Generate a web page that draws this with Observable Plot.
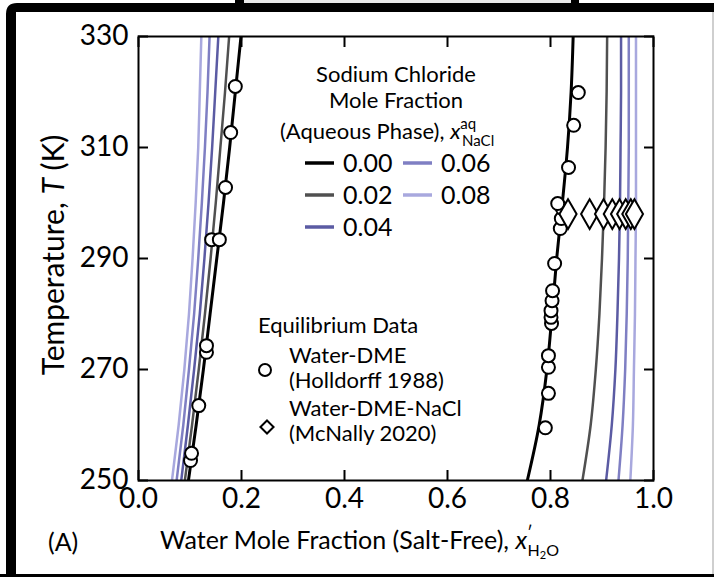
<!DOCTYPE html>
<html>
<head>
<meta charset="utf-8">
<script src="https://cdn.jsdelivr.net/npm/d3@7"></script>
<script src="https://cdn.jsdelivr.net/npm/@observablehq/plot@0.6"></script>
<style>
  body { margin: 0; background: #fff; }
  #wrap { position: relative; width: 714px; height: 577px; overflow: hidden; background: #fff; }
  #wrap svg { position: absolute; left: 0; top: 0; }
</style>
</head>
<body>
<div id="wrap"></div>
<script>
// Temperature grid (K) for the model phase-boundary curves
const temps = [250, 260, 270, 280, 290, 300, 310, 320, 330];

// NaCl mole fraction in the aqueous phase, with the line colour for each
const saltFractions = ["0.00", "0.02", "0.04", "0.06", "0.08"];
const saltColors = ["#000000", "#505050", "#5b5ba3", "#7f7fc3", "#a8a8de"];
const saltWidths = [3, 2.5, 2.5, 2.5, 2.5];

// Organic-rich (DME-rich) branch: salt-free water mole fraction vs T
const organic000 = [0.097, 0.112, 0.126, 0.139, 0.152, 0.165, 0.177, 0.188, 0.199];
const organic002 = [0.090, 0.104, 0.117, 0.129, 0.140, 0.150, 0.159, 0.168, 0.176];
const organic004 = [0.083, 0.096, 0.108, 0.119, 0.128, 0.136, 0.143, 0.149, 0.155];
const organic006 = [0.074, 0.087, 0.098, 0.108, 0.116, 0.123, 0.129, 0.134, 0.138];
const organic008 = [0.065, 0.078, 0.089, 0.098, 0.105, 0.111, 0.116, 0.119, 0.122];

// Water-rich branch
const aqueous000 = [0.755, 0.778, 0.793, 0.803, 0.812, 0.823, 0.833, 0.840, 0.844];
const aqueous002 = [0.862, 0.878, 0.888, 0.895, 0.900, 0.904, 0.907, 0.909, 0.910];
const aqueous004 = [0.908, 0.919, 0.926, 0.930, 0.933, 0.935, 0.936, 0.937, 0.937];
const aqueous006 = [0.932, 0.940, 0.945, 0.948, 0.950, 0.951, 0.952, 0.952, 0.952];
const aqueous008 = [0.955, 0.960, 0.962, 0.964, 0.965, 0.966, 0.966, 0.966, 0.966];

// Water-DME equilibrium data (Holldorff 1988)
const holldorffX = [0.101, 0.103, 0.117, 0.132, 0.132, 0.142, 0.157, 0.169, 0.179, 0.188,
                    0.790, 0.796, 0.796, 0.796, 0.802, 0.801, 0.801, 0.803, 0.804, 0.808,
                    0.819, 0.821, 0.823, 0.814, 0.835, 0.845, 0.854];
const holldorffT = [253.6, 254.9, 263.5, 273.1, 274.3, 293.4, 293.4, 302.8, 312.7, 321.0,
                    259.5, 265.7, 270.4, 272.5, 278.3, 279.4, 280.6, 282.4, 284.2, 289.1,
                    295.4, 297.2, 299.0, 299.9, 306.4, 314.0, 319.9];

// Water-DME-NaCl equilibrium data (McNally 2020), all at 298 K
const mcnallyX = [0.834, 0.876, 0.903, 0.920, 0.934, 0.946, 0.956, 0.963];
const mcnallyT = [298, 298, 298, 298, 298, 298, 298, 298];

const xTicks = [0, 0.2, 0.4, 0.6, 0.8, 1.0];
const yTicks = [250, 270, 290, 310, 330];

// Assemble the curve table
const organic = [organic000, organic002, organic004, organic006, organic008];
const aqueous = [aqueous000, aqueous002, aqueous004, aqueous006, aqueous008];
const curves = [];
// lightest first so the salt-free curve ends up on top
for (let s = saltFractions.length - 1; s >= 0; s--) {
  [["organic", organic[s]], ["aqueous", aqueous[s]]].forEach(([branch, xs]) => {
    xs.forEach((x, i) => curves.push({salt: saltFractions[s], branch, key: saltFractions[s] + branch, x, T: temps[i]}));
  });
}
const holldorff = holldorffX.map((x, i) => ({x, T: holldorffT[i]}));
const mcnally = mcnallyX.map((x, i) => ({x, T: mcnallyT[i]}));

const font = "Lato, 'Liberation Sans', sans-serif";
const blank = () => "";

const plot = Plot.plot({
  width: 714,
  height: 577,
  marginLeft: 138,
  marginRight: 61,
  marginTop: 36,
  marginBottom: 97,
  style: {fontFamily: font, fontSize: "28px", color: "#000", background: "transparent"},
  x: {domain: [0, 1]},
  y: {domain: [250, 330]},
  color: {domain: saltFractions, range: saltColors},
  marks: [
    Plot.line(curves, {
      x: "x", y: "T", z: "key", stroke: "salt",
      strokeWidth: d => saltWidths[saltFractions.indexOf(d.salt)],
      curve: "monotone-y", clip: true
    }),
    Plot.dot(holldorff, {x: "x", y: "T", r: 6.5, fill: "white", stroke: "black", strokeWidth: 2}),
    Plot.dot(mcnally, {x: "x", y: "T", symbol: "diamond", r: 9, fill: "white", stroke: "black", strokeWidth: 2}),
    Plot.frame({stroke: "black", strokeWidth: 2}),
    Plot.axisY(yTicks, {anchor: "left", tickSize: 0, tickPadding: 10, label: null}),
    Plot.axisY(yTicks, {anchor: "left", tickSize: -10, strokeWidth: 2, tickFormat: blank, label: null}),
    Plot.axisY(yTicks, {anchor: "right", tickSize: -10, strokeWidth: 2, tickFormat: blank, label: null}),
    Plot.axisX(xTicks, {anchor: "bottom", tickSize: 0, tickPadding: 8, tickFormat: d3.format(".1f"), label: null}),
    Plot.axisX(xTicks, {anchor: "bottom", tickSize: -10, strokeWidth: 2, tickFormat: blank, label: null}),
    Plot.axisX(xTicks, {anchor: "top", tickSize: -10, strokeWidth: 2, tickFormat: blank, label: null})
  ]
});

document.getElementById("wrap").appendChild(plot);

const svg = d3.select(plot);
const txt = (x, y, size, anchor = "start") => svg.append("text")
  .attr("x", x).attr("y", y)
  .attr("font-family", font).attr("font-size", size)
  .attr("text-anchor", anchor).attr("fill", "#000");

// Axis titles
const xl = txt(160, 549, 25);
xl.append("tspan").text("Water Mole Fraction (Salt-Free), ");
xl.append("tspan").attr("font-style", "italic").text("x");
xl.append("tspan").attr("font-size", 17).attr("dy", -10).text("′");
xl.append("tspan").attr("font-size", 16).attr("dx", -5).attr("dy", 17).text("H");
xl.append("tspan").attr("font-size", 11).attr("dy", 3).text("2");
xl.append("tspan").attr("font-size", 16).attr("dy", -3).text("O");

txt(48, 551, 25).text("(A)");

const yl = svg.append("text")
  .attr("transform", "translate(64,255) rotate(-90)")
  .attr("font-family", font).attr("font-size", 30)
  .attr("text-anchor", "middle").attr("fill", "#000");
yl.append("tspan").text("Temperature, ");
yl.append("tspan").attr("font-style", "italic").text("T");
yl.append("tspan").text(" (K)");

// Salt legend
txt(396, 82, 22, "middle").text("Sodium Chloride");
txt(396, 108, 22, "middle").text("Mole Fraction");
const t3 = txt(280, 139, 22);
t3.append("tspan").text("(Aqueous Phase), ");
t3.append("tspan").attr("font-style", "italic").text("x");
t3.append("tspan").attr("font-size", 15).attr("dy", -10).text("aq");
t3.append("tspan").attr("font-size", 15).attr("dx", -14).attr("dy", 17).text("NaCl");

const legendRows = [[305, 163], [305, 195], [305, 227], [403, 163], [403, 195]];
saltFractions.forEach((s, i) => {
  const [lx, ly] = legendRows[i];
  svg.append("line")
    .attr("x1", lx).attr("x2", lx + 29).attr("y1", ly).attr("y2", ly)
    .attr("stroke", saltColors[i]).attr("stroke-width", 3.5);
  txt(lx + 38, ly + 9, 25).text(s);
});

// Data legend
txt(258, 333, 22).text("Equilibrium Data");
svg.append("circle").attr("cx", 265).attr("cy", 370).attr("r", 6)
  .attr("fill", "white").attr("stroke", "black").attr("stroke-width", 2);
txt(289, 363, 22).text("Water-DME");
txt(289, 388, 22).text("(Holldorff 1988)");
svg.append("path").attr("transform", "translate(267,427)")
  .attr("d", d3.symbol(d3.symbolDiamond2, 110)())
  .attr("fill", "white").attr("stroke", "black").attr("stroke-width", 2);
txt(289, 416, 22).text("Water-DME-NaCl");
txt(289, 441, 22).text("(McNally 2020)");

// Page border
const border = svg.append("g");
border.append("rect").attr("x", 244).attr("y", 0).attr("width", 327).attr("height", 4).attr("fill", "#e8e8e8");
border.append("path").attr("fill", "black")
  .attr("d", "M16,577 L0,577 L0,574 L6,574 L6,14 Q6,3 17,3 L714,3 L714,12 L16,12 Z");
border.append("rect").attr("x", 0).attr("y", 574).attr("width", 714).attr("height", 3).attr("fill", "black");
border.append("rect").attr("x", 235).attr("y", 0).attr("width", 9).attr("height", 12).attr("fill", "black");
border.append("rect").attr("x", 571).attr("y", 0).attr("width", 8).attr("height", 12).attr("fill", "black");
border.append("rect").attr("x", 712).attr("y", 12).attr("width", 2).attr("height", 562).attr("fill", "#cfcfcf");
</script>
</body>
</html>
